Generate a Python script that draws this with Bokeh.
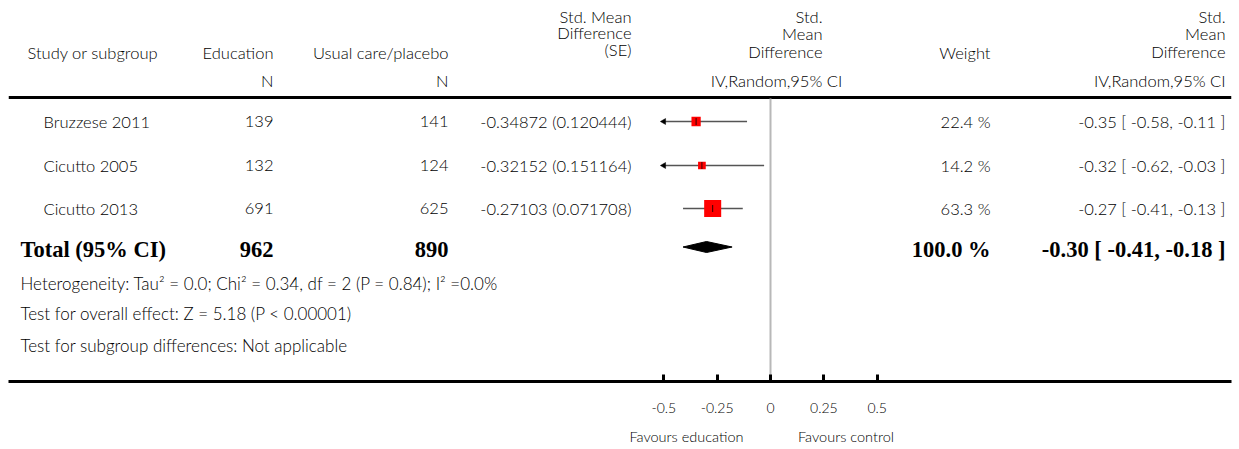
import numpy as np
from bokeh.plotting import figure
from bokeh.models import Range1d, LinearAxis, FixedTicker
from bokeh.core.properties import value
from bokeh.embed import file_html
from bokeh.resources import INLINE

# ---------------- data ----------------
studies = ["Bruzzese 2011", "Cicutto 2005", "Cicutto 2013"]
n_education = [139, 132, 691]
n_control = [141, 124, 625]
smd = [-0.34872, -0.32152, -0.27103]
se = [0.120444, 0.151164, 0.071708]
weights = [22.4, 14.2, 63.3]
est = [-0.35, -0.32, -0.27]
ci_low = [-0.58, -0.62, -0.41]
ci_high = [-0.11, -0.03, -0.13]

total_label = "Total (95% CI)"
total_n_education = 962
total_n_control = 890
total_weight = 100.0
total_est = -0.30
total_low = -0.41
total_high = -0.18

heterogeneity = "Heterogeneity: Tau\u00b2 = 0.0; Chi\u00b2 = 0.34, df = 2 (P = 0.84); I\u00b2 =0.0%"
overall_effect = "Test for overall effect: Z = 5.18 (P < 0.00001)"
subgroup_diff = "Test for subgroup differences: Not applicable"

tick_values = [-0.5, -0.25, 0, 0.25, 0.5]
tick_labels = ["-0.5", "-0.25", "0", "0.25", "0.5"]
favours_labels = ["Favours education", "Favours control"]

# ---------------- layout ----------------
W, H = 1239, 449
LEFT, RIGHT = 8, 1231          # frame edges (page px)
X0_PX = 770.0                  # page x of effect 0
PX_PER_UNIT = 213.33           # pixels per SMD unit
AXIS_MIN, AXIS_MAX = -0.5, 0.5
AXIS_Y = 381

xmin = (LEFT - X0_PX) / PX_PER_UNIT
xmax = (RIGHT - X0_PX) / PX_PER_UNIT

p = figure(width=W, height=H, output_backend="svg", toolbar_location=None,
           x_range=Range1d(xmin, xmax), y_range=Range1d(AXIS_Y, 0),
           min_border_left=LEFT, min_border_right=W - RIGHT, min_border_top=0,
           min_border_bottom=H - AXIS_Y,
           x_axis_location=None, y_axis_location=None,
           background_fill_color="white", border_fill_color="white")
p.outline_line_color = None
p.grid.visible = False
p.extra_x_ranges = {"px": Range1d(LEFT, RIGHT)}

FONT_NAME = "'Lato Light', Lato"
FONT = value(FONT_NAME)
SERIF = value("Liberation Serif")
TXT = "#000000"
FS = "16.5px"
BS = "22.5px"


def txt(x, y, s, align="left", size=FS, font=FONT, style="normal"):
    p.text(x=[x], y=[y], text=[s], x_range_name="px", text_align=align,
           text_baseline="middle", text_font=font, text_font_size=size,
           text_font_style=style, text_color=TXT)


# header
txt(27, 52, "Study or subgroup")
txt(273, 52, "Education", "right")
txt(448, 52, "Usual care/placebo", "right")
txt(273, 80, "N", "right")
txt(448, 80, "N", "right")
for yy, s in zip([16, 32, 49], ["Std. Mean", "Difference", "(SE)"]):
    txt(631, yy, s, "right")
for yy, s in zip([16, 33, 51], ["Std.", "Mean", "Difference"]):
    txt(822, yy, s, "right")
    txt(1225, yy, s, "right")
txt(776, 80, "IV,Random,95% CI", "center")
txt(990, 52, "Weight", "right")
txt(1225, 80, "IV,Random,95% CI", "right")

# top rule
p.segment(x0=[LEFT], y0=[97], x1=[RIGHT], y1=[97], x_range_name="px",
          line_color="black", line_width=3)

# zero line
p.segment(x0=[0], y0=[98], x1=[0], y1=[AXIS_Y], line_color="#b8b8b8", line_width=2)

# study rows
row_y = [121, 165, 208]
for i, s in enumerate(studies):
    y = row_y[i]
    txt(43, y, s)
    txt(273, y, str(n_education[i]), "right")
    txt(448, y, str(n_control[i]), "right")
    txt(631, y, f"{smd[i]:.5f} ({se[i]:.6f})", "right")
    txt(990, y, f"{weights[i]:.1f} %", "right")
    txt(1225, y, f"{est[i]:.2f} [ {ci_low[i]:.2f}, {ci_high[i]:.2f} ]", "right")

lo_c = [max(v, AXIS_MIN) for v in ci_low]
hi_c = [min(v, AXIS_MAX) for v in ci_high]
p.segment(x0=lo_c, y0=row_y, x1=hi_c, y1=row_y, line_color="#555555", line_width=1.5)

# arrows for clipped CIs
arr_x = [AXIS_MIN for v in ci_low if v < AXIS_MIN]
arr_y = [row_y[i] for i, v in enumerate(ci_low) if v < AXIS_MIN]
p.scatter(x=arr_x, y=arr_y, marker="triangle", angle=np.pi / 2, size=6,
          fill_color="black", line_color="black", line_width=0.5)

sizes = [5 + 0.19 * w for w in weights]
p.scatter(x=smd, y=row_y, marker="square", size=sizes, fill_color="#ff0000",
          line_color=None)
p.scatter(x=smd, y=row_y, marker="dash", angle=np.pi / 2, size=7,
          line_color="black", line_width=0.8)

# total row
ty = 249
txt(20, ty, total_label, size=BS, font=SERIF, style="bold")
txt(273, ty, str(total_n_education), "right", size=BS, font=SERIF, style="bold")
txt(448, ty, str(total_n_control), "right", size=BS, font=SERIF, style="bold")
txt(990, ty, f"{total_weight:.1f} %", "right", size=BS, font=SERIF, style="bold")
txt(1225, ty, f"{total_est:.2f} [ {total_low:.2f}, {total_high:.2f} ]", "right",
    size=BS, font=SERIF, style="bold")
dy = 246.5
p.patch(x=[total_low, total_est, total_high, total_est],
        y=[dy, dy - 5.5, dy, dy + 5.5], fill_color="black", line_color="black")

# footer notes
txt(20, 283, heterogeneity, size="17px")
txt(20, 313, overall_effect, size="17px")
txt(20, 345, subgroup_diff, size="17px")

# main axis
ax = LinearAxis(ticker=FixedTicker(ticks=tick_values))
ax.major_label_overrides = {v: l for v, l in zip(tick_values, tick_labels)}
ax.axis_line_width = 3
ax.axis_line_color = "black"
ax.major_tick_in = 7
ax.major_tick_out = 0
ax.major_tick_line_width = 3
ax.minor_tick_line_color = None
ax.major_label_standoff = 21
ax.major_label_text_font = FONT_NAME
ax.major_label_text_font_size = "14px"
ax.major_label_text_color = TXT
p.add_layout(ax, "below")

# second axis carrying the "Favours" captions
fav_pos = [-0.394, 0.354]
ax2 = LinearAxis(ticker=FixedTicker(ticks=fav_pos))
ax2.major_label_overrides = {v: l for v, l in zip(fav_pos, favours_labels)}
ax2.axis_line_color = None
ax2.major_tick_line_color = None
ax2.minor_tick_line_color = None
ax2.major_tick_in = 0
ax2.major_tick_out = 0
ax2.major_label_standoff = 12
ax2.major_label_text_font = FONT_NAME
ax2.major_label_text_font_size = "14.5px"
ax2.major_label_text_color = TXT
p.add_layout(ax2, "below")

open("out.html", "w").write(file_html(p, INLINE))
